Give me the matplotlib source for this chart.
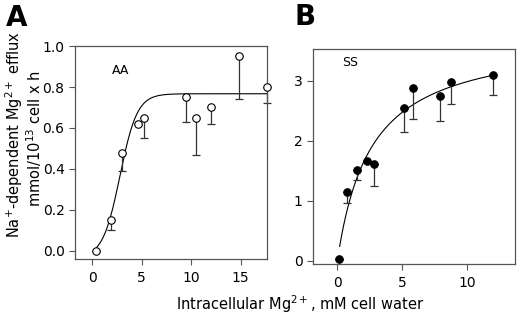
import numpy as np
import matplotlib
matplotlib.use('Agg')
import matplotlib.pyplot as plt

plt.rcParams['font.family'] = ['DejaVu Sans']

# Panel A (AA): intracellular Mg vs efflux, lower error bar ends
a_x = [0.34, 1.86, 2.97, 4.58, 5.22, 9.46, 10.5, 11.96, 14.8, 17.7]
a_y = [0.0, 0.15, 0.48, 0.62, 0.65, 0.75, 0.65, 0.70, 0.95, 0.80]
a_lo = [0.0, 0.10, 0.39, 0.62, 0.55, 0.63, 0.47, 0.62, 0.74, 0.72]

# Panel B (SS)
b_x = [0.13, 0.72, 1.49, 2.26, 2.79, 5.1, 5.85, 7.9, 8.72, 12.0]
b_y = [0.03, 1.14, 1.51, 1.66, 1.62, 2.55, 2.87, 2.75, 2.98, 3.09]
b_lo = [0.03, 0.96, 1.34, 1.66, 1.25, 2.14, 2.37, 2.33, 2.62, 2.76]

# fitted curves (sigmoid for A, hyperbola for B)
sig_top, sig_k, sig_x0, sig_off = 0.80, 1.15, 2.8, 0.033
mm_vmax, mm_k = 3.76, 2.6

fig = plt.figure(figsize=(5.2, 3.15), dpi=100)
axA = fig.add_axes([0.1442, 0.1778, 0.369, 0.676])
axB = fig.add_axes([0.602, 0.162, 0.388, 0.683])

grey = '#555555'


def style(ax):
    for s in ax.spines.values():
        s.set_color(grey)
        s.set_linewidth(0.9)
    ax.tick_params(direction='out', length=4, width=0.8, color=grey,
                   labelsize=10)
    ax.tick_params(axis='x', pad=5)
    ax.tick_params(axis='y', pad=3.5)


def draw(ax, x, y, lo, face):
    x = np.array(x)
    y = np.array(y)
    err = [y - np.array(lo), np.zeros(len(y))]
    ax.errorbar(x, y, yerr=err, fmt='none', ecolor='#333333', elinewidth=0.9,
                capsize=3, capthick=0.9, zorder=2, clip_on=False)
    ax.plot(x, y, 'o', ms=5.4, mfc=face, mec='black', mew=0.8, zorder=3,
            clip_on=False)


# A
style(axA)
xs = np.linspace(0.44, 17.65, 300)
axA.plot(xs, sig_top / (1 + np.exp(-sig_k * (xs - sig_x0))) - sig_off,
         color='black', lw=0.8, zorder=1)
draw(axA, a_x, a_y, a_lo, 'white')
axA.set_xlim(-1.75, 17.65)
axA.set_ylim(-0.04, 1.0)
axA.set_xticks([0, 5, 10, 15])
axA.set_yticks([0.0, 0.2, 0.4, 0.6, 0.8, 1.0])
axA.set_yticklabels(['0.0', '0.2', '0.4', '0.6', '0.8', '1.0'])
axA.text(2.9, 0.88, 'AA', fontsize=9, ha='center', va='center')

# B
style(axB)
xs = np.linspace(0.18, 12.0, 300)
axB.plot(xs, mm_vmax * xs / (mm_k + xs), color='black', lw=0.8, zorder=1)
draw(axB, b_x, b_y, b_lo, 'black')
axB.set_xlim(-1.87, 13.67)
axB.set_ylim(-0.05, 3.53)
axB.set_xticks([0, 5, 10])
axB.set_yticks([0, 1, 2, 3])
axB.text(1.0, 3.3, 'SS', fontsize=9, ha='center', va='center')

fig.text(17 / 520, 1 - 18 / 315, 'A', fontsize=20, fontweight='bold',
         ha='center', va='center')
fig.text(305 / 520, 1 - 17 / 315, 'B', fontsize=20, fontweight='bold',
         ha='center', va='center')

fig.text(14 / 520, 1 - 134 / 315, 'Na$^{+}$-dependent Mg$^{2+}$ efflux',
         rotation=90, fontsize=10.5, ha='center', va='center')
fig.text(34 / 520, 1 - 139 / 315, 'mmol/10$^{13}$ cell x h',
         rotation=90, fontsize=10.5, ha='center', va='center')
fig.text(300 / 520, 1 - 304 / 315, 'Intracellular Mg$^{2+}$, mM cell water',
         fontsize=10.5, ha='center', va='center')

fig.savefig('out.png', dpi=100)
